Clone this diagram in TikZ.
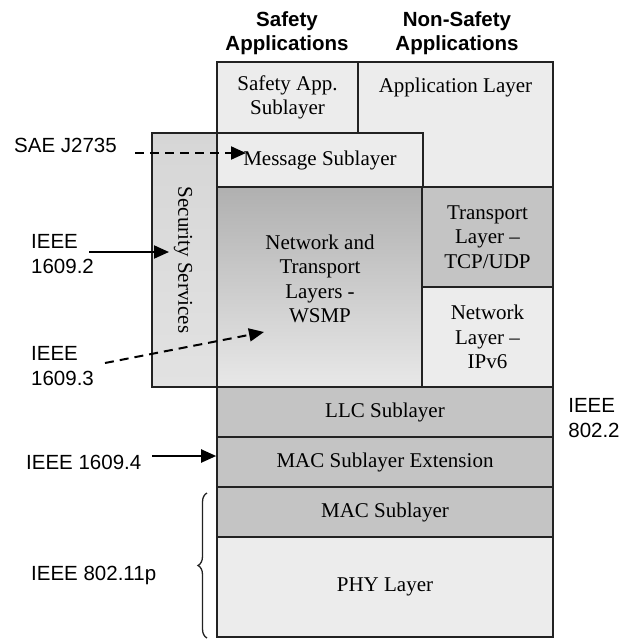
\documentclass[tikz,border=0pt]{standalone}
\usepackage{fontspec}
\setmainfont{Liberation Serif}
\setsansfont{Liberation Sans}
\usetikzlibrary{arrows.meta,decorations.pathreplacing}
\definecolor{bd}{HTML}{222222}
\definecolor{lightA}{HTML}{ECECEC}
\definecolor{midA}{HTML}{C4C4C4}
\definecolor{secA}{HTML}{D6D6D6}
\definecolor{secB}{HTML}{E2E2E2}
\definecolor{ntA}{HTML}{B0B0B0}
\definecolor{ntB}{HTML}{E8E8E8}
\tikzset{
  box/.style={draw=bd, line width=1.6pt, inner sep=0pt, align=center,
    font=\fontsize{21}{24.5}\selectfont},
  txt/.style={inner sep=0pt, align=center, font=\fontsize{21}{24.5}\selectfont},
  lab/.style={inner sep=0pt, align=left, font=\sffamily\fontsize{20.5}{25}\selectfont},
  head/.style={inner sep=0pt, align=center, font=\sffamily\bfseries\fontsize{20.5}{24.5}\selectfont},
  arr/.style={line width=2pt, -{Triangle[length=15pt,width=13pt]}},
  darr/.style={arr, dash pattern=on 9pt off 6pt},
}
\begin{document}
\begin{tikzpicture}[x=1pt,y=-1pt]
\useasboundingbox (0,0) rectangle (622,641);
% headings
\node[head] (hs) at (287,33) {Safety\\Applications};
\node[head] (hn) at (457,33) {Non-Safety\\Applications};
% security services (behind)
\node[box, minimum width=65pt, minimum height=254pt, top color=secA, bottom color=secB] (sec) at (184.5,260) {};
\node[txt, rotate=-90] (sect) at (183,260) {Security Services};
% top boxes
\node[box, minimum width=141pt, minimum height=71pt, fill=lightA] (sapp) at (287.5,97.5) {Safety App.\\Sublayer};
\node[box, minimum width=195pt, minimum height=125pt, fill=lightA] (app) at (455.5,124.5) {};
\node[txt] (appt) at (455.5,87) {Application Layer};
\node[box, minimum width=206pt, minimum height=54pt, fill=lightA] (msg) at (320,160) {Message Sublayer};
\node[box, minimum width=205pt, minimum height=200pt, top color=ntA, bottom color=ntB] (nt) at (319.5,287) {};
\node[txt] (ntt) at (320,279) {Network and\\Transport\\Layers -\\WSMP};
\node[box, minimum width=131pt, minimum height=100pt, fill=midA] (tr) at (487.5,237) {Transport\\Layer --\\TCP/UDP};
\node[box, minimum width=131pt, minimum height=100pt, fill=lightA] (nw) at (487.5,337) {Network\\Layer --\\IPv6};
% lower stack
\node[box, minimum width=336pt, minimum height=50pt, fill=midA] (llc) at (385,412) {LLC Sublayer};
\node[box, minimum width=336pt, minimum height=50pt, fill=midA] (macx) at (385,462) {MAC Sublayer Extension};
\node[box, minimum width=336pt, minimum height=50pt, fill=midA] (mac) at (385,512) {MAC Sublayer};
\node[box, minimum width=336pt, minimum height=100pt, fill=lightA] (phy) at (385,587) {PHY Layer};
% labels
\node[lab, anchor=west] (sae) at (14,145) {SAE J2735};
\node[lab, anchor=west] (i2) at (31,254) {IEEE\\1609.2};
\node[lab, anchor=west] (i3) at (31,366) {IEEE\\1609.3};
\node[lab, anchor=west] (i4) at (26,462) {IEEE 1609.4};
\node[lab, anchor=west] (i11) at (31,575) {IEEE 802.11p};
\node[lab] (i22) at (594,418) {IEEE\\802.2};
% arrows
\coordinate (saeS) at (135,153);
\coordinate (msgT) at (246,153);
\coordinate (i2S) at (89,252);
\coordinate (secT) at (169,252);
\coordinate (i3S) at (105,363);
\coordinate (ntT) at (264,332);
\coordinate (i4S) at (152,456);
\draw[darr] (saeS) -- (msgT);
\draw[arr] (i2S) -- (secT);
\draw[darr] (i3S) -- (ntT);
\draw[arr] (i4S) -- (macx.west |- i4S);
% brace
\coordinate (brB) at (207,638);
\coordinate (brT) at (207,493);
\draw[decorate, decoration={brace, amplitude=9pt}, line width=1.3pt, draw=bd] (brB) -- (brT);
\end{tikzpicture}
\end{document}
